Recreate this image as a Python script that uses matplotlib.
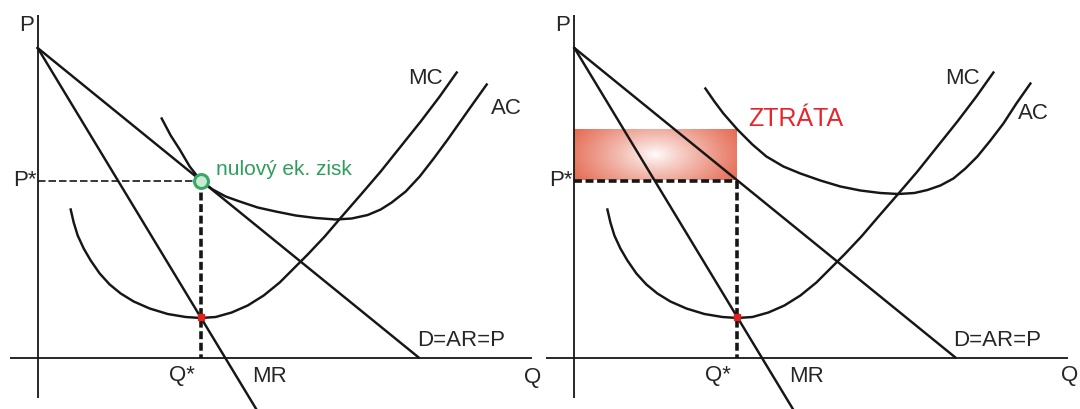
import numpy as np
import matplotlib.pyplot as plt

plt.rcParams["font.family"] = ["Liberation Sans", "DejaVu Sans"]

# Rovnováha firmy v monopolistické konkurenci (krátké a dlouhé období)
Q_STAR = 16.3
P_STAR = 17.7
D_LINE = ([0.0, 38.1], [30.95, 0.0])          # poptávka D = AR = P
MR_LINE = ([0.0, 22.0], [30.95, -5.4])        # mezní příjem
LOSS_TOP = 22.8                               # AC při Q*, pravý graf

mc_q = [3.3, 3.6, 4.0, 4.6, 5.3, 6.2, 7.2, 8.3, 9.6, 11.2, 13.0, 14.8, 16.3, 17.8,
        19.4, 21.0, 22.6, 24.2, 25.6, 27.0, 28.7, 30.5, 32.5, 34.3, 36.3, 38.3, 40.2, 41.9]
mc_p = [14.8, 13.5, 12.2, 10.9, 9.7, 8.4, 7.3, 6.4, 5.6, 4.9, 4.35, 4.05, 3.95, 4.05,
        4.5, 5.2, 6.2, 7.5, 8.9, 10.3, 12.1, 14.2, 16.5, 18.6, 21.1, 23.6, 26.1, 28.5]

ac_zero_q = [12.4, 13.3, 14.2, 15.2, 16.3, 17.5, 18.8, 20.2, 22.0, 23.8, 25.8, 27.8,
             29.8, 31.4, 33.0, 34.3, 35.4, 36.8, 38.2, 39.6, 41.0, 42.2, 43.4, 44.9]
ac_zero_p = [23.9, 22.2, 20.8, 19.1, 17.7, 16.8, 16.1, 15.6, 15.0, 14.6, 14.2, 13.95,
             13.8, 13.9, 14.25, 14.8, 15.5, 16.6, 18.1, 19.9, 21.8, 23.5, 25.2, 27.3]

ac_loss_q = [13.1, 14.0, 14.9, 16.3, 17.8, 19.2, 20.9, 22.6, 24.6, 26.6, 28.6, 30.6,
             32.4, 34.0, 35.3, 36.6, 37.9, 39.1, 40.3, 41.6, 42.9, 44.2, 45.6]
ac_loss_p = [26.9, 25.6, 24.4, 22.8, 21.3, 20.1, 19.1, 18.4, 17.7, 17.1, 16.7, 16.45,
             16.35, 16.45, 16.75, 17.2, 17.9, 18.9, 20.1, 21.7, 23.4, 25.4, 27.4]

INK = "#161616"
TXT = "#262626"
FS = 16
LW = 1.75


def draw_panel(ax, ac_q, ac_p):
    ax.set_xlim(-3.6, 50.4)
    ax.set_ylim(-5.15, 35.75)
    ax.axis("off")

    # osy
    ax.plot([-2.8, 49.4], [0, 0], color=INK, lw=1.3, solid_capstyle="butt")
    ax.plot([0, 0], [-4.0, 34.3], color=INK, lw=1.3, solid_capstyle="butt")

    ax.plot(*D_LINE, color=INK, lw=LW)
    ax.plot(*MR_LINE, color=INK, lw=LW)
    ax.plot(mc_q, mc_p, color=INK, lw=LW, solid_joinstyle="round")
    ax.plot(ac_q, ac_p, color=INK, lw=LW, solid_joinstyle="round")

    ax.plot([Q_STAR, Q_STAR], [P_STAR, 0], color=INK, lw=2.6,
            dashes=(2.2, 1.0), zorder=4)

    # MR = MC
    mr_at_q = np.interp(Q_STAR, MR_LINE[0], MR_LINE[1])
    ax.plot(Q_STAR, mr_at_q, "s", color="#e3211c", ms=4.5, zorder=6)

    ax.text(-1.15, 33.2, "P", fontsize=FS, color=TXT, ha="center", va="center")
    ax.text(-0.15, P_STAR, "P*", fontsize=FS, color=TXT, ha="right", va="center")
    ax.text(Q_STAR - 1.9, -1.8, "Q*", fontsize=FS, color=TXT, ha="center", va="center")
    ax.text(23.2, -1.9, "MR", fontsize=FS, color=TXT, ha="center", va="center")
    ax.text(37.9, 1.65, "D=AR=P", fontsize=FS, color=TXT, ha="left", va="center")
    ax.text(38.8, 27.9, "MC", fontsize=FS, color=TXT, ha="center", va="center")


fig = plt.figure(figsize=(10.8, 4.09), dpi=100)

# levý graf: nulový ekonomický zisk
ax1 = fig.add_axes([0, 0, 0.5, 1])
draw_panel(ax1, ac_zero_q, ac_zero_p)
ax1.set_xlim(-3.77, 50.23)
ax1.plot([0, Q_STAR], [P_STAR, P_STAR], color=INK, lw=1.2, dashes=(4.5, 1.8))
ax1.plot(Q_STAR, P_STAR, "o", ms=10, mfc="#c9ead3", mec="#3aa864", mew=2.2, zorder=7)
ax1.text(Q_STAR + 1.5, P_STAR + 0.55, "nulový ek. zisk", fontsize=15,
         color="#2f9d5c", ha="left", va="baseline")
ax1.text(46.9, 24.85, "AC", fontsize=FS, color=TXT, ha="center", va="center")
ax1.text(49.5, -1.95, "Q", fontsize=FS, color=TXT, ha="center", va="center")

# pravý graf: ztráta
ax2 = fig.add_axes([0.5, 0, 0.5, 1])
draw_panel(ax2, ac_loss_q, ac_loss_p)

gx, gy = np.meshgrid(np.linspace(0, 1, 200), np.linspace(0, 1, 60))
dist = np.sqrt(((gx - 0.5) / 0.55) ** 2 + ((gy - 0.5) / 0.95) ** 2)
t = np.clip(dist, 0, 1) ** 0.85
edge = np.array([0.90, 0.44, 0.35])
rgb = (1 - t[..., None]) * np.ones(3) + t[..., None] * edge
ax2.imshow(rgb, extent=[0, Q_STAR, P_STAR, LOSS_TOP], origin="lower",
           aspect="auto", zorder=1, interpolation="bilinear")
ax2.set_xlim(-3.44, 50.56)
ax2.set_ylim(-5.15, 35.75)

ax2.plot([0, Q_STAR], [P_STAR, P_STAR], color=INK, lw=2.6, dashes=(2.2, 1.0), zorder=4)
ax2.text(17.4, 23.9, "ZTRÁTA", fontsize=18, color="#e8242a", ha="left", va="center")
ax2.text(45.9, 24.4, "AC", fontsize=FS, color=TXT, ha="center", va="center")
ax2.text(49.5, -1.75, "Q", fontsize=FS, color=TXT, ha="center", va="center")

fig.savefig("out.png", dpi=100)
